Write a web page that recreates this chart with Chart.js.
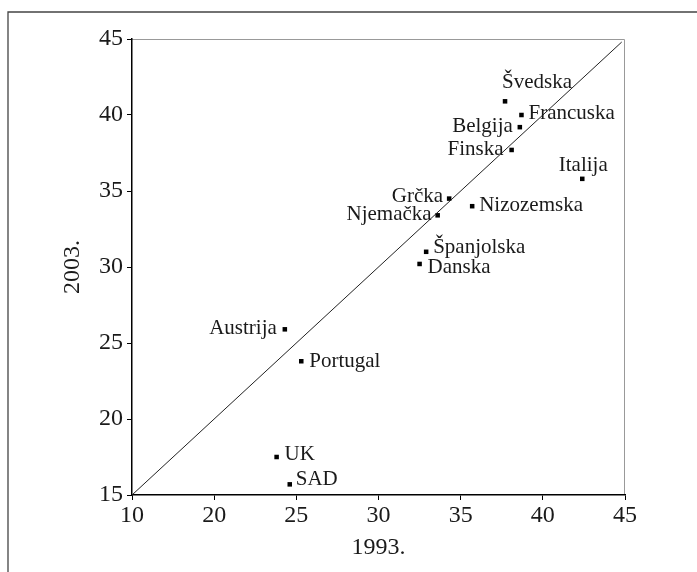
<!DOCTYPE html>
<html>
<head>
<meta charset="utf-8">
<script src="https://cdn.jsdelivr.net/npm/chart.js@4/dist/chart.umd.min.js"></script>
<style>
  html, body { margin: 0; padding: 0; background: #fff; }
  #wrap { position: relative; width: 697px; height: 572px; }
</style>
</head>
<body>
<div id="wrap"><canvas id="scatter" width="697" height="572"></canvas></div>
<script>
const countries = ["Švedska", "Francuska", "Belgija", "Finska", "Italija", "Grčka", "Nizozemska",
  "Njemačka", "Španjolska", "Danska", "Austrija", "Portugal", "UK", "SAD"];
const values1993 = [37.7, 38.7, 38.6, 38.1, 42.4, 34.3, 35.7, 33.6, 32.9, 32.5, 24.3, 25.3, 23.8, 24.6];
const values2003 = [40.9, 40.0, 39.2, 37.7, 35.8, 34.5, 34.0, 33.4, 31.0, 30.2, 25.9, 23.8, 17.5, 15.7];
const equalityLine = [15, 44.8];
const xTicks = [15, 20, 25, 30, 35, 40, 45];
const xTickLabels = ["10", "20", "25", "30", "35", "40", "45"];

// where each name sits relative to its marker: [dx, dy(baseline), align]
const labelPlacement = {
  "Švedska": [-3, -13, "left"],
  "Francuska": [7, 4, "left"],
  "Belgija": [-7, 5, "right"],
  "Finska": [-8, 5, "right"],
  "Italija": [1, -8, "center"],
  "Grčka": [-6, 3, "right"],
  "Nizozemska": [7, 5, "left"],
  "Njemačka": [-6, 5, "right"],
  "Španjolska": [7, 1, "left"],
  "Danska": [8, 9, "left"],
  "Austrija": [-8, 5, "right"],
  "Portugal": [8, 6, "left"],
  "UK": [8, 3, "left"],
  "SAD": [6, 1, "left"]
};

const serif = "'Liberation Serif', 'Times New Roman', serif";
const ink = "#1a1a1a";

const pointLabels = {
  id: "pointLabels",
  afterDatasetsDraw(chart) {
    const ctx = chart.ctx;
    const meta = chart.getDatasetMeta(1);
    ctx.save();
    ctx.font = "21px " + serif;
    ctx.fillStyle = ink;
    ctx.textBaseline = "alphabetic";
    meta.data.forEach((pt, i) => {
      const [dx, dy, align] = labelPlacement[countries[i]];
      ctx.textAlign = align;
      ctx.fillText(countries[i], pt.x + dx, pt.y + dy);
    });
    ctx.restore();
  }
};

const frame = {
  id: "frame",
  beforeDraw(chart) {
    const ctx = chart.ctx;
    const a = chart.chartArea;
    ctx.save();
    ctx.strokeStyle = "#444";
    ctx.lineWidth = 1.3;
    ctx.beginPath();
    ctx.moveTo(8, chart.height);
    ctx.lineTo(8, 12);
    ctx.lineTo(chart.width, 12);
    ctx.stroke();
    ctx.strokeStyle = "#999";
    ctx.lineWidth = 1;
    ctx.beginPath();
    ctx.moveTo(a.left, a.top + 0.5);
    ctx.lineTo(a.right - 0.5, a.top + 0.5);
    ctx.lineTo(a.right - 0.5, a.bottom);
    ctx.stroke();
    ctx.restore();
  }
};

new Chart(document.getElementById("scatter").getContext("2d"), {
  type: "scatter",
  data: {
    datasets: [
      {
        type: "line",
        data: equalityLine.map(v => ({ x: v, y: v })),
        borderColor: "#222",
        borderWidth: 1,
        pointRadius: 0,
        fill: false
      },
      {
        data: countries.map((c, i) => ({ x: values1993[i], y: values2003[i] })),
        pointStyle: "rect",
        pointRadius: 3.2,
        backgroundColor: "#000",
        borderColor: "#000",
        borderWidth: 0
      }
    ]
  },
  options: {
    responsive: false,
    animation: false,
    events: [],
    layout: { padding: { left: 58.6, top: 39, right: 72, bottom: 9.6 } },
    plugins: { legend: { display: false }, tooltip: { enabled: false } },
    scales: {
      x: {
        type: "linear",
        min: 15,
        max: 45,
        afterBuildTicks: s => { s.ticks = xTicks.map(v => ({ value: v })); },
        afterFit: s => { s.height = 67.4; },
        border: { color: "#000", width: 1.5 },
        grid: { drawOnChartArea: false, drawTicks: true, tickLength: 5, color: "#000" },
        ticks: {
          padding: 1,
          color: ink,
          font: { family: serif, size: 24 },
          callback: v => xTickLabels[xTicks.indexOf(v)]
        },
        title: { display: true, text: "1993.", color: ink, padding: 0, font: { family: serif, size: 24 } }
      },
      y: {
        type: "linear",
        min: 15,
        max: 45,
        afterFit: s => { s.width = 73.4; },
        border: { color: "#000", width: 1.5 },
        grid: { drawOnChartArea: false, drawTicks: true, tickLength: 5, color: "#000" },
        ticks: { stepSize: 5, padding: 4, color: ink, font: { family: serif, size: 24 } },
        title: { display: true, text: "2003.", color: ink, padding: 0, font: { family: serif, size: 24 } }
      }
    }
  },
  plugins: [frame, pointLabels]
});
</script>
</body>
</html>
